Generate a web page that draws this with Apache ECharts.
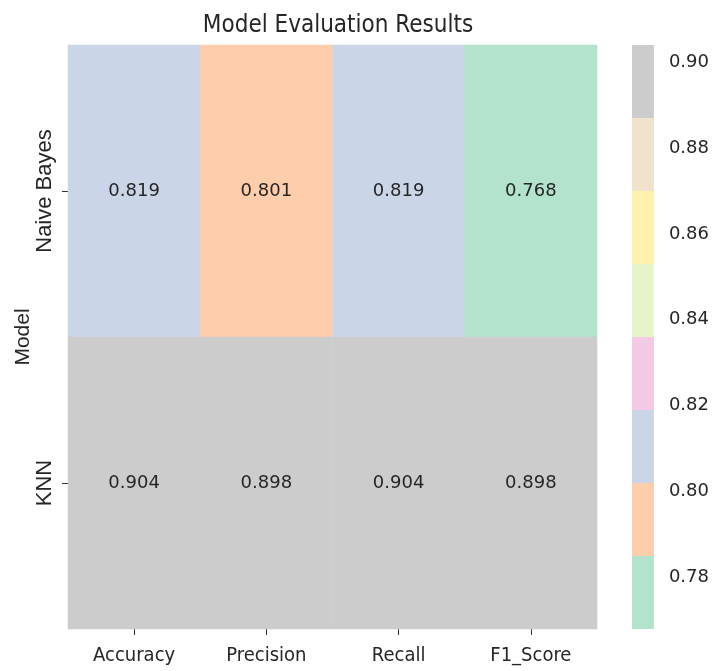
<!DOCTYPE html>
<html>
<head>
<meta charset="utf-8">
<script src="https://cdn.jsdelivr.net/npm/echarts@6/dist/echarts.min.js"></script>
<style>
  html, body { margin: 0; padding: 0; background: #fff; }
  #chart { width: 712px; height: 671px; }
</style>
</head>
<body>
<div id="chart"></div>
<script>
const metrics = ['Accuracy', 'Precision', 'Recall', 'F1_Score'];
const models = ['Naive Bayes', 'KNN'];
const naiveBayes = [0.819, 0.801, 0.819, 0.768];
const knn = [0.904, 0.898, 0.904, 0.898];

// colour bins of the colorbar (Pastel2), bottom to top
const binEdges = [0.768, 0.785, 0.802, 0.819, 0.836, 0.853, 0.870, 0.887, 0.904];
const binColors = ['#b3e2cd', '#fdcdac', '#cbd5e8', '#f4cae4', '#e6f5c9', '#fff2ae', '#f1e2cc', '#cccccc'];
const barTicks = [0.78, 0.80, 0.82, 0.84, 0.86, 0.88, 0.90];

const cells = [];
[naiveBayes, knn].forEach((row, r) => {
  row.forEach((v, c) => cells.push([c, r, v]));
});

const pieces = binColors.map((color, i) => {
  const p = { lte: binEdges[i + 1], color };
  if (i === 0) p.gte = binEdges[i]; else p.gt = binEdges[i];
  return p;
});

const bins = binColors.map((color, i) => [binEdges[i], binEdges[i + 1], color]);

const chart = echarts.init(document.getElementById('chart'));
const gridTop = 45, gridBottom = 42;
const textColor = '#262626';
const hiddenLine = { show: true, lineStyle: { color: 'rgba(0,0,0,0)' } };
const tick = { show: true, alignWithLabel: true, length: 6, lineStyle: { color: '#333', width: 1 } };

chart.setOption({
  animation: false,
  title: {
    text: 'Model Evaluation Results',
    left: 333, top: 9, textAlign: 'center',
    textStyle: { fontFamily: 'DejaVu Sans Condensed', fontSize: 24, fontWeight: 'normal', color: textColor }
  },
  grid: [
    { left: 68, right: 115, top: gridTop, bottom: gridBottom },
    { left: 632, width: 23, top: gridTop, bottom: gridBottom }
  ],
  xAxis: [
    {
      gridIndex: 0, type: 'category', data: metrics,
      axisLine: hiddenLine,
      axisTick: tick,
      axisLabel: { fontFamily: 'DejaVu Sans Condensed', fontSize: 20, color: textColor, margin: 17 },
      splitLine: { show: false }
    },
    { gridIndex: 1, type: 'value', min: 0, max: 1, show: false }
  ],
  yAxis: [
    {
      gridIndex: 0, type: 'category', data: models, inverse: true,
      name: 'Model', nameLocation: 'middle', nameGap: 34, nameMoveOverlap: false,
      nameTextStyle: { fontFamily: 'Liberation Sans', fontSize: 21, color: textColor },
      axisLine: hiddenLine,
      axisTick: tick,
      axisLabel: { rotate: 90, fontFamily: 'Liberation Sans', fontSize: 22, color: textColor, margin: 12 },
      splitLine: { show: false }
    },
    {
      gridIndex: 1, type: 'value', position: 'right',
      min: binEdges[0], max: binEdges[binEdges.length - 1],
      axisLine: hiddenLine,
      axisTick: { show: true, length: 5, customValues: barTicks, lineStyle: { color: '#333' } },
      axisLabel: {
        customValues: barTicks, margin: 15,
        formatter: v => v.toFixed(2),
        fontFamily: 'DejaVu Sans', fontSize: 18, color: textColor
      },
      splitLine: { show: false }
    }
  ],
  visualMap: {
    show: false, type: 'piecewise', seriesIndex: 0, dimension: 2, pieces
  },
  series: [
    {
      type: 'heatmap', xAxisIndex: 0, yAxisIndex: 0, data: cells,
      label: {
        show: true, formatter: p => p.value[2].toFixed(3),
        fontFamily: 'DejaVu Sans', fontSize: 18, color: textColor
      },
      itemStyle: { borderWidth: 0 },
      emphasis: { disabled: true }
    },
    {
      type: 'custom', xAxisIndex: 1, yAxisIndex: 1, data: bins,
      renderItem: (params, api) => {
        const a = api.coord([0, api.value(0)]);
        const b = api.coord([1, api.value(1)]);
        return {
          type: 'rect',
          shape: { x: a[0], y: b[1], width: b[0] - a[0], height: a[1] - b[1] },
          style: { fill: bins[params.dataIndex][2] }
        };
      }
    }
  ]
});
</script>
</body>
</html>
